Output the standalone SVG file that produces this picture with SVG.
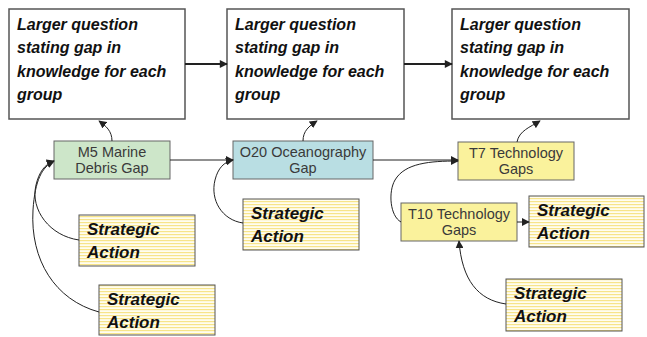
<svg xmlns="http://www.w3.org/2000/svg" width="647" height="337" viewBox="0 0 647 337">
<style>
.big{fill:#fff;stroke:#555;stroke-width:1.5}
.hand{font-family:"Liberation Sans",Arial,sans-serif;font-weight:bold;font-style:italic;fill:#111}
.q{font-size:16px}
.sa{font-size:17px}
.gap{stroke:#666;stroke-width:1}
.lbl{font-family:"Liberation Sans",Arial,sans-serif;font-size:14.5px;fill:#3a3a3a;text-anchor:middle}
.sab{fill:url(#stripes);stroke:#555;stroke-width:1}
.c{fill:none;stroke:#222;stroke-width:1;marker-end:url(#ah)}
.t{fill:none;stroke:#222;stroke-width:2;marker-end:url(#ahb)}
</style>
<defs>
<pattern id="stripes" patternUnits="userSpaceOnUse" width="8" height="3">
<rect width="8" height="3" fill="#fffdf0"/>
<rect width="8" height="1.2" fill="#f7e48a"/>
</pattern>
<marker id="ah" viewBox="0 0 10 10" refX="9" refY="5" markerWidth="8" markerHeight="8" markerUnits="userSpaceOnUse" orient="auto">
<path d="M0,0 L10,5 L0,10 z" fill="#222"/>
</marker>
<marker id="ahb" viewBox="0 0 10 10" refX="9" refY="5" markerWidth="9" markerHeight="8" markerUnits="userSpaceOnUse" orient="auto">
<path d="M0,0 L10,5 L0,10 z" fill="#222"/>
</marker>
</defs>

<g id="q1">
<rect class="big" x="9" y="9" width="176" height="110"/>
<text class="hand q" x="17" y="30">Larger question</text>
<text class="hand q" x="17" y="53">stating gap in</text>
<text class="hand q" x="17" y="77">knowledge for each</text>
<text class="hand q" x="17" y="100">group</text>
</g>
<g id="q2">
<rect class="big" x="227" y="9" width="177" height="110"/>
<text class="hand q" x="235" y="30">Larger question</text>
<text class="hand q" x="235" y="53">stating gap in</text>
<text class="hand q" x="235" y="77">knowledge for each</text>
<text class="hand q" x="235" y="100">group</text>
</g>
<g id="q3">
<rect class="big" x="452" y="9" width="177" height="110"/>
<text class="hand q" x="460" y="30">Larger question</text>
<text class="hand q" x="460" y="53">stating gap in</text>
<text class="hand q" x="460" y="77">knowledge for each</text>
<text class="hand q" x="460" y="100">group</text>
</g>

<g id="m5">
<rect class="gap" x="54" y="141" width="116" height="38" fill="#cde6c9"/>
<text class="lbl" x="112" y="157">M5 Marine</text>
<text class="lbl" x="112" y="173">Debris Gap</text>
</g>
<g id="o20">
<rect class="gap" x="233" y="141" width="140" height="38" fill="#b9dee3"/>
<text class="lbl" x="303" y="157">O20 Oceanography</text>
<text class="lbl" x="303" y="173">Gap</text>
</g>
<g id="t7">
<rect class="gap" x="458" y="142" width="116" height="38" fill="#faf29c"/>
<text class="lbl" x="516" y="158">T7 Technology</text>
<text class="lbl" x="516" y="174">Gaps</text>
</g>
<g id="t10">
<rect class="gap" x="401" y="203" width="116" height="38" fill="#faf29c"/>
<text class="lbl" x="459" y="219">T10 Technology</text>
<text class="lbl" x="459" y="235">Gaps</text>
</g>

<g id="sa1">
<rect class="sab" x="79" y="215" width="116" height="51"/>
<text class="hand sa" x="87" y="235">Strategic</text>
<text class="hand sa" x="87" y="258">Action</text>
</g>
<g id="sa2">
<rect class="sab" x="99" y="285" width="116" height="50"/>
<text class="hand sa" x="107" y="305">Strategic</text>
<text class="hand sa" x="107" y="328">Action</text>
</g>
<g id="sa3">
<rect class="sab" x="243" y="199" width="116" height="51"/>
<text class="hand sa" x="251" y="219">Strategic</text>
<text class="hand sa" x="251" y="242">Action</text>
</g>
<g id="sa4">
<rect class="sab" x="529" y="196" width="115" height="51"/>
<text class="hand sa" x="537" y="216">Strategic</text>
<text class="hand sa" x="537" y="239">Action</text>
</g>
<g id="sa5">
<rect class="sab" x="506" y="279" width="116" height="52"/>
<text class="hand sa" x="514" y="299">Strategic</text>
<text class="hand sa" x="514" y="322">Action</text>
</g>

<g id="connectors">
<path class="t" d="M185,64 L227,64"/>
<path class="t" d="M404,64 L452,64"/>
<path class="c" d="M112,141 C112,131 106,126 99,121"/>
<path class="c" d="M303,141 C303,131 309,126 317,121"/>
<path class="c" d="M517,142 C519,131 530,127 540,121"/>
<path class="c" d="M170,160 L233,160"/>
<path class="c" d="M373,160 L458,160"/>
<path class="c" d="M401,222 C390,216 388,192 395,180 C405,163 430,161 458,161"/>
<path class="c" d="M517,222 L529,222"/>
<path class="c" d="M506,304 C478,300 462,280 459,241"/>
<path class="c" d="M243,223 C222,220 210,200 215,180 C218,168 224,162 233,160"/>
<path class="c" d="M79,240 C50,236 30,210 36,185 C39,172 45,164 54,161"/>
<path class="c" d="M99,312 C55,300 30,260 33,210 C35,180 42,167 54,161"/>
</g>
</svg>
